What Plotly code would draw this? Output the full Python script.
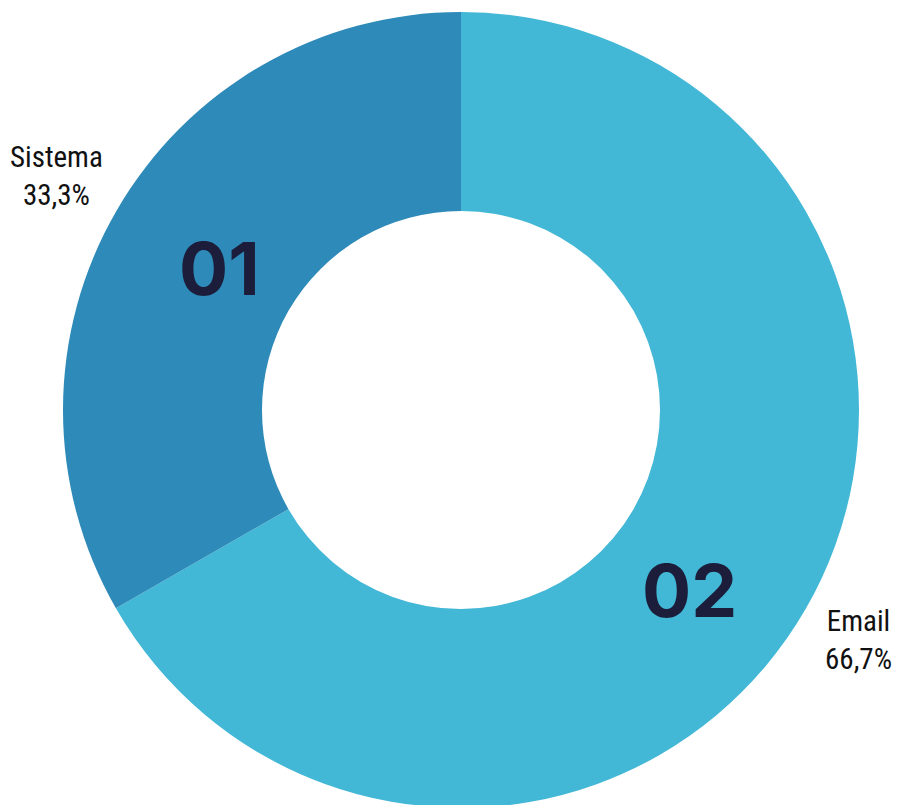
import plotly.graph_objects as go

labels = ["Email", "Sistema"]
values = [66.7, 33.3]
numbers = ["02", "01"]
colors = ["#42B7D6", "#2E8AB8"]

W, H = 901, 805
OX, OY = 8, 8  # page offset
L, T, S = 55, 4, 796
fig = go.Figure(go.Pie(
    labels=labels, values=values, hole=0.5, sort=False, direction="clockwise",
    rotation=0, marker=dict(colors=colors, line=dict(width=0)),
    textinfo="none", hoverinfo="label+percent", showlegend=False,
))

def px(x, y):
    return (x - OX - L) / S, 1 - (y - OY - T) / S

label_pos = {"Sistema": (56, 176), "Email": (858, 640)}
num_pos = {"Sistema": (219, 268), "Email": (689, 590)}
for lab, val, num in zip(labels, values, numbers):
    x, y = px(*label_pos[lab])
    fig.add_annotation(x=x, y=y, xref="paper", yref="paper", showarrow=False,
                       text=f"{lab}<br>{val:.1f}%".replace(".", ","),
                       font=dict(family="Roboto Condensed", size=29, color="#111111"),
                       align="center", xanchor="center", yanchor="middle")
    x, y = px(*num_pos[lab])
    fig.add_annotation(x=x, y=y, xref="paper", yref="paper", showarrow=False,
                       text=f"<b>{num}</b>",
                       font=dict(family="Inter", size=73, color="#1B1D3A", weight=900),
                       xanchor="center", yanchor="middle")

fig.update_layout(width=W, height=H, margin=dict(l=L, r=W - L - S, t=T, b=H - T - S),
                  paper_bgcolor="white", plot_bgcolor="white")
fig.write_html("out.html")
